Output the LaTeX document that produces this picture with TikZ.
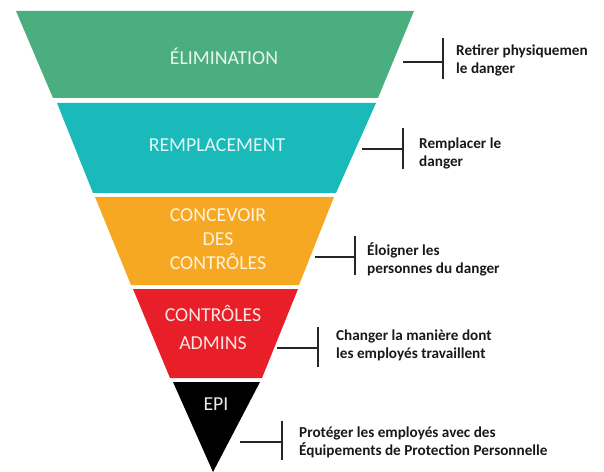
\documentclass[tikz,border=0pt]{standalone}
\usepackage{fontspec}
\setmainfont{Carlito}
\definecolor{cgreen}{RGB}{75,174,126}
\definecolor{cteal}{RGB}{26,185,186}
\definecolor{corange}{RGB}{247,168,35}
\definecolor{cred}{RGB}{232,30,40}
\definecolor{cdark}{RGB}{0,0,0}
\begin{document}
\begin{tikzpicture}[x=1bp,y=-1bp,
  lvl/.style={font=\fontsize{19.8bp}{24bp}\selectfont, align=center, inner sep=0},
  desc/.style={font=\bfseries\fontsize{15.2bp}{18bp}\selectfont, align=left, anchor=west, inner sep=0, text=black!90},
  brk/.style={line width=1.7bp, draw=black!85}]
\useasboundingbox[fill=white] (0,0) rectangle (604,472);
% bands
\fill[cgreen]  (16,11) -- (414,11) -- (378,98) -- (53,98) -- cycle;
\fill[cteal]   (57,103) -- (376,103) -- (336,193) -- (93,193) -- cycle;
\fill[corange] (95,197) -- (334,197) -- (299,285) -- (131,285) -- cycle;
\fill[cred]    (133,289) -- (298,289) -- (262,378) -- (170,378) -- cycle;
\fill[cdark]   (173,382) -- (260,382) -- (213,472) -- cycle;
% level labels
\node[lvl, anchor=base, text=white!88!cgreen] (elim) at (224,65) {ÉLIMINATION};
\node[lvl, anchor=base, text=white!88!cteal] (rempl) at (217,152) {REMPLACEMENT};
\node[lvl, text=white!85!corange] (conc) at (218,239) {CONCEVOIR\\DES\\CONTRÔLES};
\node[lvl, text=white!88!cred, font=\fontsize{19.8bp}{28bp}\selectfont] (adm) at (213,327) {CONTRÔLES\\ADMINS};
\node[lvl, anchor=base, text=white!92!cdark] (epi) at (216,410) {EPI};
% descriptions
\node[desc] (d1) at (456,60) {Retirer physiquemen\\le danger};
\node[desc] (d2) at (419,153) {Remplacer le\\danger};
\node[desc] (d3) at (367,259) {Éloigner les\\personnes du danger};
\node[desc] (d4) at (336,345) {Changer la manière dont\\les employés travaillent};
\node[desc] (d5) at (299,442) {Protéger les employés avec des\\Équipements de Protection Personnelle};
% brackets
\coordinate (s1) at (403,62);  \coordinate (t1) at (443,38);  \coordinate (u1) at (443,79);
\coordinate (s2) at (362,149); \coordinate (t2) at (403,128); \coordinate (u2) at (403,169);
\coordinate (s3) at (315,257); \coordinate (t3) at (355,236); \coordinate (u3) at (355,275);
\coordinate (s4) at (277,348); \coordinate (t4) at (318,327); \coordinate (u4) at (318,367);
\coordinate (s5) at (240,442); \coordinate (t5) at (282,421); \coordinate (u5) at (282,460);
\foreach \i in {1,...,5}{
  \draw[brk] (s\i) -- (s\i -| t\i);
  \draw[brk] (t\i) -- (u\i);
}
\end{tikzpicture}
\end{document}
